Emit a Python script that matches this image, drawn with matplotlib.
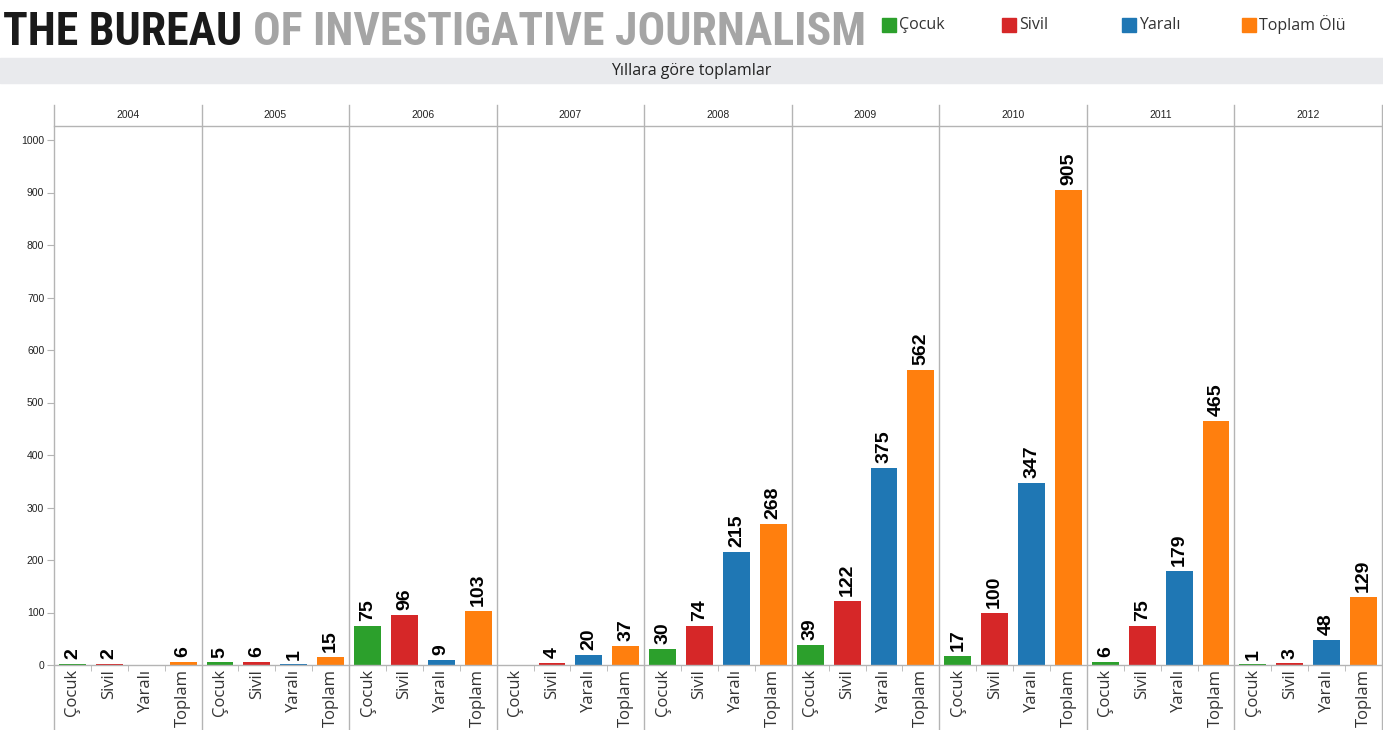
import numpy as np
import matplotlib
matplotlib.use('Agg')
import matplotlib.pyplot as plt
from matplotlib import font_manager
from matplotlib.patches import Rectangle
from matplotlib.transforms import blended_transform_factory

# data
years = ['2004', '2005', '2006', '2007', '2008', '2009', '2010', '2011', '2012']
categories = ['Çocuk', 'Sivil', 'Yaralı', 'Toplam']
legend_labels = ['Çocuk', 'Sivil', 'Yaralı', 'Toplam Ölü']
cocuk = [2, 5, 75, None, 30, 39, 17, 6, 1]
sivil = [2, 6, 96, 4, 74, 122, 100, 75, 3]
yarali = [None, 1, 9, 20, 215, 375, 347, 179, 48]
toplam = [6, 15, 103, 37, 268, 562, 905, 465, 129]
series = [cocuk, sivil, yarali, toplam]
colors = ['#2ca02c', '#d62728', '#1f77b4', '#ff7f0e']
yticks = list(range(0, 1001, 100))

W, H = 1383, 730
fig = plt.figure(figsize=(W / 100, H / 100), dpi=100)
fig.patch.set_facecolor('white')

def fy(y):
    return 1 - y / H

# pick a condensed face for the masthead if one is installed
names = {f.name for f in font_manager.fontManager.ttflist}
logo_font = 'DejaVu Sans'
for cand in ['Roboto Condensed', 'Liberation Sans Narrow', 'Open Sans Condensed', 'DejaVu Sans Condensed']:
    if cand in names:
        logo_font = cand
        break

renderer = fig.canvas.get_renderer()
size = 38
t1 = fig.text(3 / W, fy(45), 'THE BUREAU', fontsize=size, fontweight='heavy',
              family=logo_font, stretch='condensed', color='#1a1a1a', va='baseline')
t2 = fig.text(0, fy(45), 'OF INVESTIGATIVE JOURNALISM', fontsize=size, fontweight='heavy',
              family=logo_font, stretch='condensed', color='#a5a5a5', va='baseline')
w1 = t1.get_window_extent(renderer).width
w2 = t2.get_window_extent(renderer).width
scale = min(1.0, (865 - 3 - 11) / (w1 + w2))
t1.set_fontsize(size * scale)
t2.set_fontsize(size * scale)
e1 = t1.get_window_extent(renderer)
t2.set_x((e1.x1 + 11) / W)

# legend
for i, (lab, col) in enumerate(zip(legend_labels, colors)):
    x0 = 882 + 120 * i
    fig.patches.append(Rectangle((x0 / W, fy(32)), 14 / W, 14 / H,
                                 transform=fig.transFigure, color=col))
    fig.text((x0 + 17) / W, fy(25), lab, fontsize=11.5, family='Open Sans',
             color='#333333', va='center', ha='left')

# grey title band
fig.patches.append(Rectangle((0, fy(83)), 1, 25 / H, transform=fig.transFigure,
                             color='#e9eaed', zorder=0))
fig.text(691 / W, fy(71), 'Yıllara göre toplamlar', fontsize=11.5, family='Open Sans',
         color='#222222', ha='center', va='center')

# main axes
ax = fig.add_axes([54 / W, fy(665), (1382 - 54) / W, (665 - 126) / H])
ax.set_xlim(-0.5, 35.5)
ax.set_ylim(0, (665 - 126) / 0.525)

for p, year in enumerate(years):
    for k, vals in enumerate(series):
        v = vals[p]
        if v is None:
            continue
        x = p * 4 + k
        ax.bar(x, v, width=0.73, color=colors[k], zorder=2)
        ax.annotate(str(v), (x, v), xytext=(0, 3.5), textcoords='offset points',
                    rotation=90, ha='center', va='bottom', fontsize=14,
                    fontweight='bold', family='Liberation Sans', color='black')

# facet separators and year headers
trans = blended_transform_factory(ax.transData, ax.transAxes)
ytop = (665 - 105) / 539
ybot = (665 - 730) / 539
for p in range(len(years) + 1):
    ax.plot([p * 4 - 0.5, p * 4 - 0.5], [ybot, ytop], transform=trans,
            color='#b4b4b4', lw=1, clip_on=False, zorder=1)
for p, year in enumerate(years):
    ax.text(p * 4 + 1.5, (665 - 115) / 539, year, transform=trans, ha='center',
            va='center', fontsize=7.5, family='Liberation Sans', color='#222222')

ax.set_xticks(np.arange(len(years) * 4))
ax.set_xticklabels(categories * len(years), rotation=90, fontsize=12,
                   family='Open Sans', color='#333333')
ax.set_xticks(np.arange(-0.5, len(years) * 4, 1), minor=True)
ax.tick_params(axis='x', which='major', length=0, pad=3)
ax.tick_params(axis='x', which='minor', length=4, color='#b4b4b4')

ax.set_yticks(yticks)
ax.set_yticklabels([str(t) for t in yticks], fontsize=7.5, family='Liberation Sans',
                   color='#222222')
ax.tick_params(axis='y', length=5, color='#b4b4b4', pad=2)

for s in ['left', 'right']:
    ax.spines[s].set_visible(False)
for s in ['top', 'bottom']:
    ax.spines[s].set_color('#b4b4b4')
    ax.spines[s].set_linewidth(1)

fig.savefig('out.png', dpi=100)
